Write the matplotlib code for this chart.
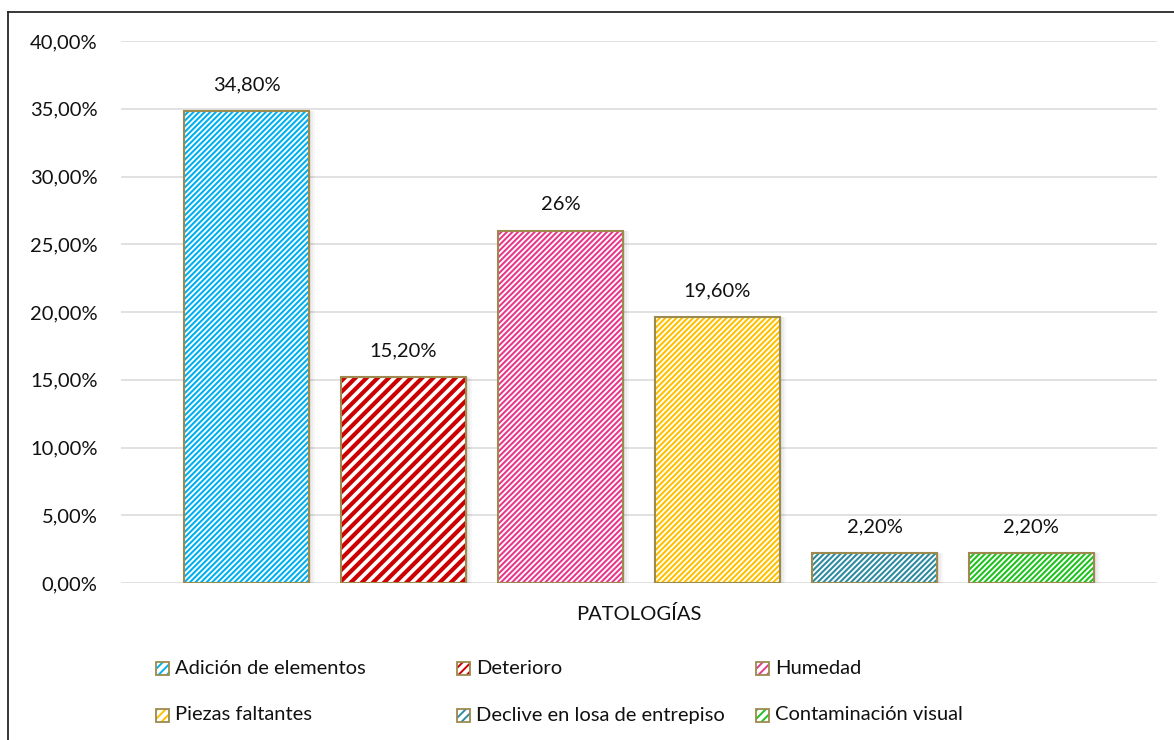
import matplotlib
matplotlib.use("Agg")
import matplotlib.pyplot as plt
from matplotlib.lines import Line2D
from matplotlib.patches import Rectangle
from matplotlib.transforms import ScaledTranslation
import numpy as np

# Data
series = ["Adición de elementos", "Deterioro", "Humedad",
          "Piezas faltantes", "Declive en losa de entrepiso", "Contaminación visual"]
values = [0.348, 0.152, 0.26, 0.196, 0.022, 0.022]
value_labels = ["34,80%", "15,20%", "26%", "19,60%", "2,20%", "2,20%"]
category = "PATOLOGÍAS"
yticks = [0.0, 0.05, 0.10, 0.15, 0.20, 0.25, 0.30, 0.35, 0.40]

# Styles
colors = ["#00B0F0", "#CC0000", "#E8388C", "#FFC000", "#2E8BA0", "#1FC21F"]
hatches = ["//////", "///", "//////", "//////", "//////", "//////"]
hatch_lw = [1.5, 3.0, 1.5, 1.5, 1.5, 1.5]
outline = "#9C8A4E"
text_color = "#111111"
fs = 14.5

plt.rcParams["font.family"] = ["Lato", "DejaVu Sans"]

W, H = 1174, 740
fig = plt.figure(figsize=(W / 100, H / 100), dpi=100)
ax = fig.add_axes([121 / W, 1 - 583 / H, (1157 - 121) / W, (583 - 41) / H])

x = np.arange(len(series))
width = 0.8


def hatched(artist, lw):
    if hasattr(artist, "set_hatch_linewidth"):
        artist.set_hatch_linewidth(lw)


for i in range(len(series)):
    # soft shadow to the right of the bar
    for dx, a in [(6, 0.03), (4, 0.04), (2, 0.05)]:
        ax.bar(x[i], values[i], width, color="black", alpha=a, linewidth=0,
               zorder=2,
               transform=ax.transData + ScaledTranslation(dx / 100, 0,
                                                          fig.dpi_scale_trans))
    with plt.rc_context({"hatch.linewidth": hatch_lw[i]}):
        b = ax.bar(x[i], values[i], width, color="white", edgecolor=colors[i],
                   hatch=hatches[i], linewidth=0, zorder=3)
    for p in b:
        hatched(p, hatch_lw[i])
    ax.bar(x[i], values[i], width, fill=False, edgecolor=outline,
           linewidth=1.5, zorder=4)
    ax.annotate(value_labels[i], (x[i], values[i]), xytext=(0, 19),
                textcoords="offset points", ha="center", va="center",
                fontsize=fs, color=text_color)

ax.set_xlim(-0.8, 5.8)
ax.set_ylim(0, 0.40)
ax.set_yticks(yticks)
ax.set_yticklabels([f"{v * 100:.2f}%".replace(".", ",") for v in yticks])
ax.set_xticks([2.5])
ax.set_xticklabels([category])
ax.tick_params(axis="y", length=0, pad=17, labelsize=fs, labelcolor=text_color)
ax.tick_params(axis="x", length=0, pad=16, labelsize=fs, labelcolor=text_color)
for s in ax.spines.values():
    s.set_visible(False)
ax.yaxis.grid(True, color="#D9D9D9", linewidth=1.1, zorder=0)
ax.set_axisbelow(True)

# Legend in a 3-column grid
col_x = [156, 457, 756]
row_y = [668, 715]
sq = 13
for i, name in enumerate(series):
    cx = col_x[i % 3]
    cy = row_y[i // 3]
    with plt.rc_context({"hatch.linewidth": 1.4}):
        r = Rectangle((cx / W, 1 - (cy + sq / 2) / H), sq / W, sq / H,
                      transform=fig.transFigure, facecolor="white",
                      edgecolor=colors[i], hatch="////", linewidth=0)
    hatched(r, 1.4)
    fig.add_artist(r)
    fig.add_artist(Rectangle((cx / W, 1 - (cy + sq / 2) / H), sq / W, sq / H,
                             transform=fig.transFigure, fill=False,
                             edgecolor=outline, linewidth=1.3))
    fig.text((cx + sq + 6) / W, 1 - cy / H, name, ha="left", va="center",
             fontsize=fs, color=text_color)

# Chart frame
fig.add_artist(Line2D([8 / W, 8 / W], [0, 1 - 12 / H], transform=fig.transFigure,
                      color="#262626", linewidth=1.3))
fig.add_artist(Line2D([8 / W, 1], [1 - 12 / H, 1 - 12 / H], transform=fig.transFigure,
                      color="#262626", linewidth=1.3))

fig.savefig("out.png", dpi=100, facecolor="white")
